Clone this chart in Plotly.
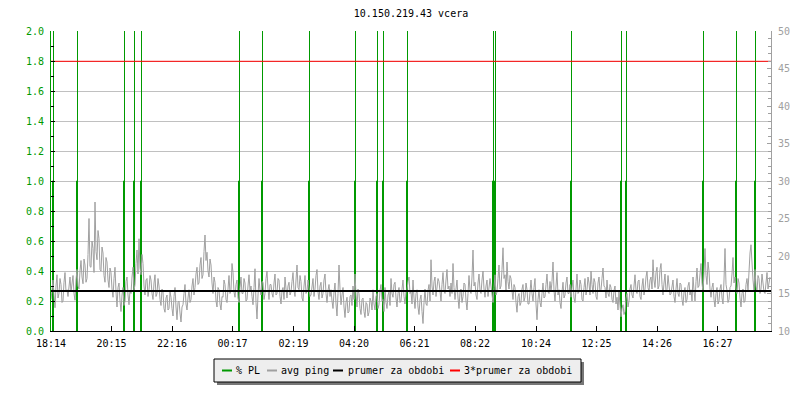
import datetime as dt
import plotly.graph_objects as go

# ---------------- data ----------------
title_text = "10.150.219.43 vcera"
start_time = "2024-03-10 18:14"
window_minutes = 1440
sample_minutes = 2

tick_labels = ["18:14", "20:15", "22:16", "00:17", "02:19", "04:20",
               "06:21", "08:22", "10:24", "12:25", "14:26", "16:27"]

# avg ping [ms], one value every 2 minutes (right axis)
avg_ping = [
    14.2, 15.6, 16.8, 14.8, 13.1, 16.0, 17.5, 14.4, 15.0, 17.0, 16.2, 13.8, 14.0, 16.5, 17.8, 15.2, 15.5, 14.6, 16.0, 17.2,
    15.2, 16.4, 17.4, 15.0, 14.1, 16.8, 18.2, 16.0, 15.6, 18.0, 19.4, 17.2, 16.3, 19.6, 18.8, 16.5, 17.0, 20.2, 25.0, 18.6,
    18.5, 22.0, 21.0, 17.8, 27.2, 20.6, 19.5, 23.4, 22.3, 18.2, 18.0, 21.2, 20.4, 17.4, 16.5, 19.8, 19.2, 16.8, 15.8, 18.4,
    17.8, 15.6, 14.5, 17.0, 18.5, 15.2, 13.2, 15.8, 16.4, 14.0, 12.6, 14.8, 15.8, 13.4, 14.0, 16.6, 17.2, 14.8, 13.5, 15.4,
    15.0, 17.2, 18.5, 15.4, 16.2, 19.0, 20.8, 17.6, 22.3, 18.4, 17.5, 20.2, 19.0, 16.0, 14.8, 16.8, 17.0, 14.6, 15.5, 17.4,
    16.8, 15.0, 14.2, 16.4, 17.5, 14.6, 15.0, 17.0, 16.0, 14.2, 13.4, 15.6, 15.2, 13.0, 12.5, 14.4, 14.8, 12.8, 13.0, 15.2,
    14.5, 13.0, 12.0, 14.6, 15.8, 13.2, 11.5, 13.8, 14.0, 12.4, 11.2, 13.2, 13.5, 15.0, 16.2, 13.6, 12.8, 14.4, 15.5, 13.8,
    14.2, 16.0, 17.0, 14.8, 15.8, 17.6, 18.5, 16.2, 16.4, 18.8, 19.8, 17.0, 17.5, 20.6, 22.8, 19.4, 20.5, 18.0, 17.2, 19.6,
    18.8, 16.4, 15.0, 17.2, 16.5, 14.0, 13.2, 15.8, 15.5, 13.6, 12.8, 14.6, 14.5, 16.8, 16.2, 14.2, 13.8, 15.6, 17.4, 15.0,
    15.5, 19.0, 17.8, 15.2, 14.5, 16.2, 16.8, 14.4, 13.8, 15.8, 17.2, 15.0, 15.0, 17.0, 16.4, 14.0, 14.2, 16.0, 17.5, 15.4,
    16.0, 14.6, 13.5, 15.8, 18.3, 13.8, 11.6, 14.8, 17.0, 15.4, 14.8, 16.6, 16.5, 14.2, 15.0, 17.0, 18.0, 15.6, 14.2, 16.2,
    16.2, 15.0, 14.5, 16.4, 17.6, 14.8, 15.0, 17.0, 16.8, 14.6, 13.6, 15.4, 15.8, 14.2, 17.2, 15.6, 14.4, 16.0, 16.5, 14.8,
    15.2, 16.6, 17.8, 15.4, 14.6, 16.8, 18.8, 15.8, 15.5, 17.4, 16.6, 14.4, 14.0, 16.0, 17.4, 15.0, 15.3, 16.8, 16.0, 14.6,
    14.8, 16.2, 17.0, 14.6, 15.6, 17.4, 18.2, 15.2, 14.2, 16.0, 16.5, 14.4, 15.0, 16.8, 17.6, 15.0, 13.8, 15.4, 16.2, 14.6,
    15.5, 14.0, 13.0, 15.2, 16.4, 13.6, 12.0, 15.0, 18.8, 15.6, 13.5, 14.8, 15.8, 13.2, 11.8, 13.8, 14.5, 12.4, 12.6, 14.6,
    14.8, 13.4, 16.0, 14.2, 17.6, 14.8, 13.2, 15.6, 15.0, 13.0, 12.2, 14.2, 14.4, 12.6, 11.8, 13.8, 13.6, 12.0, 12.5, 14.4,
    14.0, 12.8, 15.5, 13.6, 12.8, 14.6, 15.0, 13.0, 13.5, 15.4, 16.2, 14.0, 14.2, 12.6, 15.8, 13.8, 13.0, 14.8, 15.2, 13.4,
    17.0, 15.0, 14.5, 16.2, 16.5, 14.4, 13.2, 15.0, 15.8, 13.8, 14.0, 15.6, 16.8, 14.6, 13.6, 15.2, 15.5, 16.6, 17.2, 15.0,
    15.2, 13.6, 16.8, 14.4, 13.0, 15.0, 15.5, 13.2, 12.2, 14.2, 14.8, 12.6, 11.0, 13.8, 15.6, 13.6, 13.4, 15.4, 16.2, 14.0,
    19.5, 16.0, 14.8, 16.6, 17.2, 14.6, 15.5, 17.0, 16.6, 14.8, 14.0, 16.2, 17.8, 15.4, 15.0, 16.8, 18.2, 15.6, 16.0, 14.6,
    16.4, 15.0, 19.0, 15.8, 14.2, 15.6, 16.8, 14.4, 13.0, 15.2, 15.6, 13.8, 14.6, 16.4, 16.2, 14.0, 12.8, 15.0, 17.4, 15.4,
    15.0, 17.2, 20.8, 16.0, 16.5, 14.8, 14.2, 16.4, 17.6, 15.4, 15.0, 16.8, 18.0, 15.6, 14.5, 16.0, 16.8, 14.6, 15.5, 17.0,
    16.0, 14.6, 13.8, 15.8, 17.5, 14.8, 15.2, 17.0, 18.8, 15.6, 16.0, 18.2, 21.1, 17.0, 17.5, 15.4, 19.2, 16.6, 15.6, 17.4,
    17.0, 15.4, 14.2, 16.2, 15.8, 13.8, 12.5, 14.6, 15.0, 13.4, 13.8, 15.6, 16.2, 14.0, 14.5, 16.4, 15.5, 13.6, 13.6, 15.2,
    16.8, 15.0, 14.0, 15.8, 17.0, 13.6, 11.5, 14.2, 15.5, 13.8, 13.2, 15.0, 16.4, 14.4, 14.6, 16.2, 17.6, 15.2, 15.0, 16.6,
    15.2, 16.6, 19.2, 15.4, 14.0, 16.0, 17.8, 14.8, 15.5, 13.8, 13.0, 15.2, 16.5, 14.4, 14.8, 16.4, 17.2, 15.0, 15.0, 16.2,
    14.5, 15.8, 16.8, 14.4, 13.8, 15.6, 17.6, 15.0, 15.2, 16.8, 16.2, 14.2, 14.0, 15.8, 17.0, 14.8, 15.5, 17.2, 16.4, 14.8,
    18.0, 16.2, 15.0, 17.0, 16.5, 14.6, 14.2, 16.4, 17.2, 15.2, 15.5, 17.0, 18.4, 16.0, 15.8, 14.4, 16.8, 15.0, 14.6, 16.2,
    15.8, 14.2, 13.8, 15.4, 16.0, 13.6, 14.5, 12.8, 15.2, 13.4, 11.9, 13.0, 13.5, 12.2, 12.6, 14.4, 15.0, 13.2, 14.0, 15.6,
    16.2, 14.8, 14.4, 16.0, 17.5, 15.4, 15.0, 16.6, 16.8, 14.6, 14.2, 16.0, 17.0, 14.8, 15.6, 17.2, 18.0, 15.8, 15.2, 16.8,
    17.2, 15.6, 19.5, 16.8, 15.8, 17.8, 18.5, 15.6, 16.0, 18.2, 19.0, 16.2, 14.8, 16.4, 17.6, 15.2, 15.5, 17.4, 16.4, 14.8,
    15.0, 16.4, 16.8, 14.6, 13.8, 15.6, 17.0, 15.0, 14.6, 16.4, 16.2, 14.2, 13.4, 15.2, 15.8, 13.8, 14.2, 16.0, 16.5, 14.8,
    15.5, 14.0, 17.2, 15.4, 14.0, 16.6, 18.4, 15.8, 16.0, 17.6, 19.0, 16.4, 15.2, 17.8, 21.0, 17.4, 16.2, 19.2, 18.0, 15.6,
    14.5, 15.8, 16.4, 14.2, 13.2, 15.0, 15.8, 13.6, 14.0, 15.6, 16.2, 14.4, 13.6, 16.8, 21.0, 16.2, 15.4, 13.8, 14.2, 15.8,
    16.0, 17.6, 19.8, 16.4, 17.2, 15.6, 15.0, 17.0, 16.4, 14.4, 13.2, 15.0, 15.6, 13.8, 14.0, 16.2, 17.0, 15.4, 18.5, 20.4,
    21.5, 18.0, 16.8, 15.4, 18.2, 16.0, 15.2, 17.4, 17.0, 15.0, 15.6, 17.6, 16.5, 15.2, 15.0, 16.8, 17.8, 15.6, 16.2, 17.2,
]

# packet-loss events [%] (left axis): two consecutive 2-minute samples per event
pl_event_times = ["18:17", "19:05", "20:39", "20:59", "21:13", "00:29",
                  "01:15", "02:49", "04:21", "05:05", "05:17", "06:05",
                  "08:57", "09:01", "11:33", "13:13", "13:23", "15:57",
                  "17:03", "17:41"]
pl_first = [1.0] * len(pl_event_times)
pl_second = [10.0] * len(pl_event_times)
pl_step_minutes = 2

period_mean = 15.32   # prumer za obdobi [ms]
mean_factor = 3

# ---------------- styles ----------------
FONT = "DejaVu Sans Mono"
GREEN = "#009900"
GRAY = "#a0a0a0"
RED = "#ff0000"
OFF = 8                      # page body margin of the browser
W, H = 800 - 2 * OFF, 400 - 2 * OFF
PLOT_X0, PLOT_X1 = 51, 771   # screen pixels of the plot area
PLOT_Y0, PLOT_Y1 = 31, 331
L, R = PLOT_X0 - OFF, W - (PLOT_X1 - OFF)
T, B = PLOT_Y0 - OFF, H - (PLOT_Y1 - OFF)

start = dt.datetime.strptime(start_time, "%Y-%m-%d %H:%M")
end = start + dt.timedelta(minutes=window_minutes)


def clock(s):
    h, m = map(int, s.split(":"))
    d = start.replace(hour=h, minute=m)
    if d < start:
        d += dt.timedelta(days=1)
    return d


ping_x = [start + dt.timedelta(minutes=sample_minutes * i) for i in range(len(avg_ping))]

pl_x, pl_y = [], []
for t, a, b in zip(pl_event_times, pl_first, pl_second):
    t0 = clock(t)
    t1 = t0 + dt.timedelta(minutes=pl_step_minutes)
    pl_x += [t0, t0, t1, t1, t1, None]
    pl_y += [0, a, a, b, 0, None]

fig = go.Figure()
fig.add_trace(go.Scatter(x=pl_x, y=pl_y, mode="lines", yaxis="y",
                         line=dict(color=GREEN, width=1), connectgaps=False,
                         showlegend=False, hoverinfo="skip"))
fig.add_trace(go.Scatter(x=ping_x, y=avg_ping, mode="lines", yaxis="y2",
                         line=dict(color=GRAY, width=1), showlegend=False))
fig.add_trace(go.Scatter(x=[start, end], y=[period_mean, period_mean], mode="lines",
                         yaxis="y2", line=dict(color="black", width=2), showlegend=False))
fig.add_trace(go.Scatter(x=[start, end], y=[period_mean * mean_factor] * 2, mode="lines",
                         yaxis="y2", line=dict(color=RED, width=1), showlegend=False))

tick_vals = [clock(s) for s in tick_labels]

fig.update_layout(
    width=W, height=H,
    margin=dict(l=L, r=R, t=T, b=B, autoexpand=False),
    paper_bgcolor="white", plot_bgcolor="white",
    font=dict(family=FONT, size=10, color="black"),
    title=dict(text=title_text, x=0.5, xref="paper", y=1 - (13 - OFF) / H, yref="container",
               yanchor="middle", xanchor="center",
               font=dict(family=FONT, size=10, color="black")),
    xaxis=dict(type="date", range=[start, end], tickvals=tick_vals, ticktext=tick_labels,
               ticks="inside", ticklen=5, tickcolor="black", showline=True,
               linecolor="black", linewidth=1, showgrid=False, zeroline=False,
               tickfont=dict(family=FONT, size=10, color="black"), ticklabelstandoff=3,
               automargin=False),
    yaxis=dict(range=[0, 2], dtick=0.2, tick0=0, tickformat=".1f",
               ticks="inside", ticklen=4, tickcolor="black", showline=True,
               linecolor=GREEN, linewidth=1, showgrid=True, gridcolor="#c0c0c0",
               gridwidth=1, zeroline=False, automargin=False,
               tickfont=dict(family=FONT, size=10, color=GREEN), ticklabelstandoff=4,
               minor=dict(dtick=0.1, ticks="inside", ticklen=3, tickcolor="black",
                          showgrid=False)),
    yaxis2=dict(range=[10, 50], dtick=5, tick0=10, overlaying="y", side="right",
                ticks="inside", ticklen=4, tickcolor=GRAY, showline=True,
                linecolor=GRAY, linewidth=1, showgrid=False, zeroline=False,
                automargin=False,
                tickfont=dict(family=FONT, size=10, color=GRAY), ticklabelstandoff=4,
                minor=dict(dtick=1, ticks="inside", ticklen=3, tickcolor=GRAY,
                           showgrid=False)),
    showlegend=False,
)

# ---------- custom legend (box with shadow), screen-pixel positions ----------
pw, ph = W - L - R, H - T - B


def px(xs):
    return (xs - PLOT_X0) / pw


def py(ys):
    return (PLOT_Y1 - ys) / ph


shapes = [
    dict(type="rect", xref="paper", yref="paper", x0=px(217), x1=px(584),
         y0=py(385), y1=py(362), fillcolor="#777777", line=dict(width=0)),
    dict(type="rect", xref="paper", yref="paper", x0=px(214), x1=px(581),
         y0=py(382), y1=py(359), fillcolor="#eeeeee", line=dict(color="black", width=1)),
]
legend_items = [("% PL", GREEN, 222, 234), ("avg ping", GRAY, 267, 279),
                ("prumer za obdobi", "black", 333, 346),
                ("3*prumer za obdobi", RED, 450, 462)]
annotations = []
ly = 370.5
for text, color, x0, tx in legend_items:
    shapes.append(dict(type="line", xref="paper", yref="paper", x0=px(x0), x1=px(x0 + 10),
                       y0=py(ly), y1=py(ly), line=dict(color=color, width=2)))
    annotations.append(dict(text=text, xref="paper", yref="paper", x=px(tx), y=py(ly),
                            xanchor="left", yanchor="middle", showarrow=False,
                            font=dict(family=FONT, size=10, color="black")))
fig.update_layout(shapes=shapes, annotations=annotations)

fig.write_html("out.html")
